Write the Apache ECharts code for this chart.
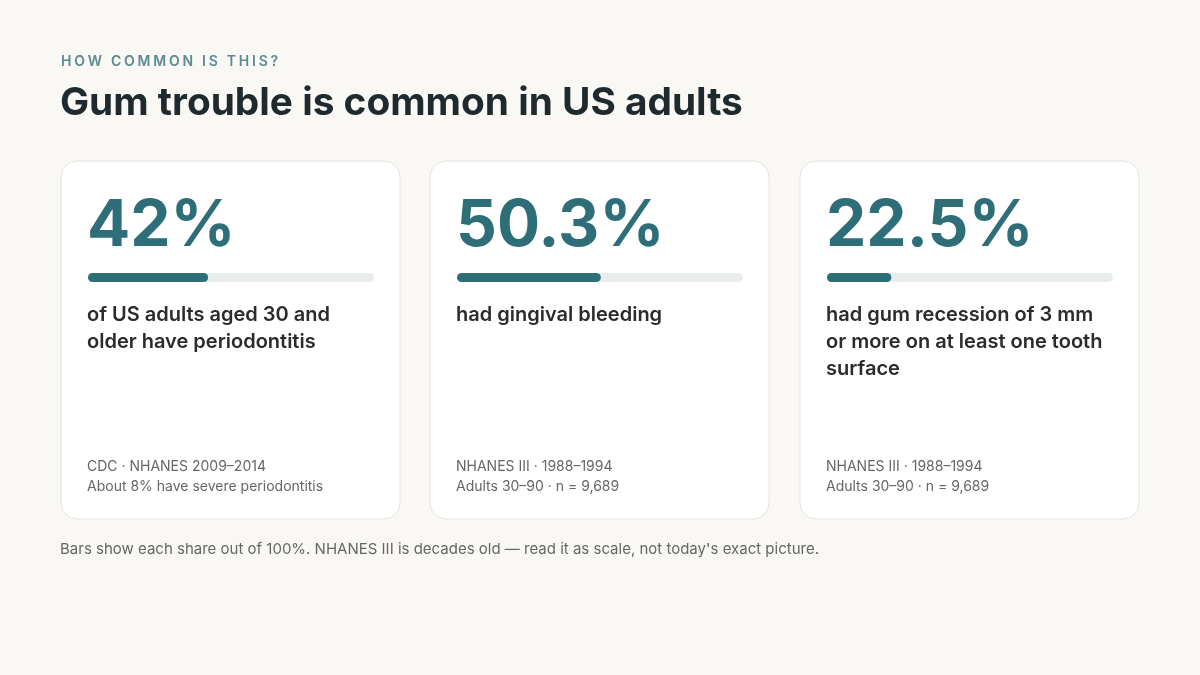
<!DOCTYPE html>
<html><head><meta charset="utf-8">
<script src="https://cdn.jsdelivr.net/npm/echarts@6/dist/echarts.min.js"></script>
<style>html,body{margin:0;padding:0;background:#f9f8f5}#c{width:1200px;height:675px}</style>
</head><body><div id="c"></div>
<script>
const labels = ["42%", "50.3%", "22.5%"];
const values = [42, 50.3, 22.5];
const descriptions = [
  "of US adults aged 30 and\nolder have periodontitis",
  "had gingival bleeding",
  "had gum recession of 3 mm\nor more on at least one tooth\nsurface"
];
const sources = [
  "CDC · NHANES 2009–2014\nAbout 8% have severe periodontitis",
  "NHANES III · 1988–1994\nAdults 30–90 · n = 9,689",
  "NHANES III · 1988–1994\nAdults 30–90 · n = 9,689"
];
const kicker = "HOW COMMON IS THIS?";
const F = 'Inter, "Noto Sans", sans-serif';
const cardX = [61, 430, 800], cardW = 339, cardY = 161, cardH = 358;
const grids = [], xAxes = [], yAxes = [], series = [], graphics = [];
cardX.forEach((x, i) => {
  graphics.push({type:'rect', z:0, shape:{x:x, y:cardY, width:cardW, height:cardH, r:16},
    style:{fill:'#ffffff', stroke:'#e6e4df', lineWidth:1}});
  graphics.push({type:'text', z:5, x:x+26, y:259, style:{text:labels[i], font:'bold 64px '+F, fill:'#2e6e78', textVerticalAlign:'bottom'}});
  graphics.push({type:'text', z:5, x:x+26, y:301, style:{text:descriptions[i], font:'600 20px '+F, fill:'#2b2b2b', lineHeight:27}});
  graphics.push({type:'text', z:5, x:x+26, y:457, style:{text:sources[i], font:'14px '+F, fill:'#666666', lineHeight:20}});
  grids.push({left:x+27, top:273, width:286, height:9});
  xAxes.push({type:'value', gridIndex:i, min:0, max:100, show:false});
  yAxes.push({type:'category', gridIndex:i, data:['v'], show:false});
  series.push({type:'bar', xAxisIndex:i, yAxisIndex:i, data:[values[i]], barWidth:9, z:3,
    itemStyle:{color:'#2e6e78', borderRadius:5}, showBackground:true,
    backgroundStyle:{color:'#e8ecec', borderRadius:5}, silent:true});
});
const kFont = '600 14px ' + F;
const ctx = document.createElement('canvas').getContext('2d');
ctx.font = kFont;
let kx = 61;
for (const ch of kicker) {
  graphics.push({type:'text', x:kx, y:55, style:{text:ch, font:kFont, fill:'#5b8a90'}});
  kx += ctx.measureText(ch).width + 2.75;
}
graphics.push({type:'text', x:60, y:84, style:{text:'Gum trouble is common in US adults', font:'bold 38.8px '+F, fill:'#1f2a2e'}});
graphics.push({type:'text', x:60, y:542, style:{text:"Bars show each share out of 100%. NHANES III is decades old — read it as scale, not today's exact picture.", font:'15px '+F, fill:'#666666'}});
const chart = echarts.init(document.getElementById('c'));
chart.setOption({backgroundColor:'#f9f8f5', animation:false, grid:grids, xAxis:xAxes, yAxis:yAxes, series:series, graphic:graphics});
</script></body></html>
